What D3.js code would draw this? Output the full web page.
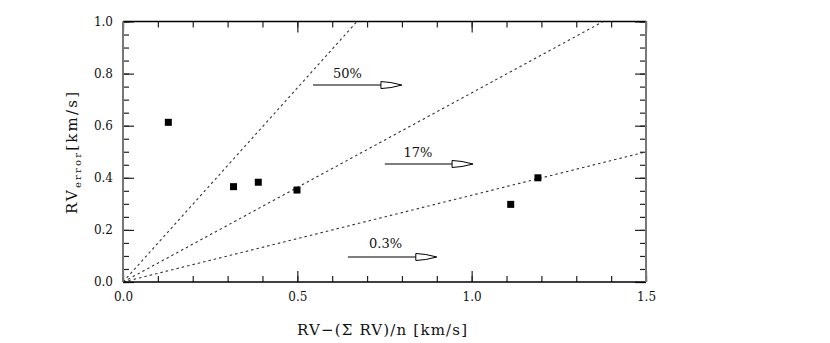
<!DOCTYPE html>
<html>
<head>
<meta charset="utf-8">
<title>RV error vs RV offset</title>
<script src="https://d3js.org/d3.v7.min.js"></script>
<style>
  body { margin: 0; background: #fff; }
  svg text { font-family: "DejaVu Serif", "Liberation Serif", serif; fill: #111; }
</style>
</head>
<body>
<div class="drawing"></div>
<script>
var w = 830, h = 343;
var mLeft = 123, mRight = 646, mTop = 21.5, mBottom = 282;

// measured stars
var rvOffset = [0.130, 0.317, 0.388, 0.499, 1.112, 1.190];
var rvError  = [0.613, 0.366, 0.383, 0.353, 0.298, 0.400];

// dotted reference lines through the origin (slope = error / offset)
var slopes = [1.49, 0.726, 0.333];

// arrow annotations
var arrowLabels = ["50%", "17%", "0.3%"];
var arrowX0 = [0.545, 0.751, 0.645];
var arrowX1 = [0.800, 1.004, 0.900];
var arrowY  = [0.756, 0.453, 0.096];
var labelX  = [0.644, 0.846, 0.753];
var labelY  = [0.783, 0.480, 0.131];

var xTicks = [0, 0.5, 1.0, 1.5];
var yTicks = [0, 0.2, 0.4, 0.6, 0.8, 1.0];
var xMinor = d3.range(0, 16).map(function(i){ return i / 10; });
var yMinor = d3.range(0, 21).map(function(i){ return i / 20; });

var x = d3.scaleLinear().domain([0, 1.5]).range([mLeft, mRight]);
var y = d3.scaleLinear().domain([0, 1.0]).range([mBottom, mTop]);

var svg = d3.select("div.drawing").append("svg")
  .attr("width", w).attr("height", h);

/* reference lines */
svg.append("g").selectAll("line")
  .data(slopes).enter().append("line")
  .attr("x1", x(0)).attr("y1", y(0))
  .attr("x2", function(s){ return x(Math.min(1.5, 1 / s)); })
  .attr("y2", function(s){ return y(Math.min(1.0, 1.5 * s)); })
  .attr("stroke", "#333").attr("stroke-width", 1.1)
  .attr("stroke-dasharray", "2.5,3");

/* points */
svg.append("g").selectAll("rect")
  .data(rvOffset).enter().append("rect")
  .attr("x", function(d){ return x(d) - 3.5; })
  .attr("y", function(d, i){ return y(rvError[i]) - 3.5; })
  .attr("width", 7).attr("height", 7)
  .attr("fill", "#000");

/* arrows */
var arr = svg.append("g").selectAll("g")
  .data(arrowLabels).enter().append("g");
arr.append("line")
  .attr("x1", function(d, i){ return x(arrowX0[i]); })
  .attr("x2", function(d, i){ return x(arrowX1[i]) - 20; })
  .attr("y1", function(d, i){ return y(arrowY[i]); })
  .attr("y2", function(d, i){ return y(arrowY[i]); })
  .attr("stroke", "#555").attr("stroke-width", 1.5);
arr.append("path")
  .attr("d", "M-21,-3.5L-11,-2.5L0,0L-11,2.5L-21,3.5Z")
  .attr("transform", function(d, i){ return "translate(" + x(arrowX1[i]) + "," + y(arrowY[i]) + ")"; })
  .attr("fill", "#fff").attr("stroke", "#000").attr("stroke-width", 1);
arr.append("text")
  .attr("x", function(d, i){ return x(labelX[i]); })
  .attr("y", function(d, i){ return y(labelY[i]); })
  .attr("text-anchor", "middle")
  .attr("font-size", 13)
  .text(function(d){ return d; });

/* axes: minor and major ticks pointing inward */
function ticks(g){ g.select(".domain").remove();
  g.attr("font-family", null);
  g.selectAll(".tick line").attr("stroke", "#222").attr("stroke-width", 1.2); }

svg.append("g").attr("transform", "translate(0," + mBottom + ")")
  .call(d3.axisBottom(x).tickValues(xMinor).tickSizeInner(-6).tickSizeOuter(0).tickFormat(""))
  .call(ticks);
svg.append("g").attr("transform", "translate(0," + mBottom + ")")
  .call(d3.axisBottom(x).tickValues(xTicks).tickSizeInner(-11).tickSizeOuter(0)
    .tickPadding(10).tickFormat(d3.format(".1f")))
  .call(ticks);
svg.append("g").attr("transform", "translate(0," + mTop + ")")
  .call(d3.axisTop(x).tickValues(xMinor).tickSizeInner(-6).tickSizeOuter(0).tickFormat(""))
  .call(ticks);
svg.append("g").attr("transform", "translate(0," + mTop + ")")
  .call(d3.axisTop(x).tickValues(xTicks).tickSizeInner(-11).tickSizeOuter(0).tickFormat(""))
  .call(ticks);
svg.append("g").attr("transform", "translate(" + mLeft + ",0)")
  .call(d3.axisLeft(y).tickValues(yMinor).tickSizeInner(-6).tickSizeOuter(0).tickFormat(""))
  .call(ticks);
svg.append("g").attr("transform", "translate(" + mLeft + ",0)")
  .call(d3.axisLeft(y).tickValues(yTicks).tickSizeInner(-11).tickSizeOuter(0)
    .tickPadding(10).tickFormat(d3.format(".1f")))
  .call(ticks);
svg.append("g").attr("transform", "translate(" + mRight + ",0)")
  .call(d3.axisRight(y).tickValues(yMinor).tickSizeInner(-6).tickSizeOuter(0).tickFormat(""))
  .call(ticks);
svg.append("g").attr("transform", "translate(" + mRight + ",0)")
  .call(d3.axisRight(y).tickValues(yTicks).tickSizeInner(-11).tickSizeOuter(0).tickFormat(""))
  .call(ticks);

svg.selectAll(".tick text").attr("font-size", 12).attr("fill", "#111");

/* frame */
svg.append("line").attr("x1", mLeft).attr("x2", mRight).attr("y1", mTop).attr("y2", mTop)
  .attr("stroke", "#000").attr("stroke-width", 1.5);
svg.append("line").attr("x1", mLeft).attr("x2", mRight).attr("y1", mBottom).attr("y2", mBottom)
  .attr("stroke", "#000").attr("stroke-width", 1.5);
svg.append("line").attr("x1", mLeft).attr("x2", mLeft).attr("y1", mTop).attr("y2", mBottom)
  .attr("stroke", "#777").attr("stroke-width", 2);
svg.append("line").attr("x1", mRight).attr("x2", mRight).attr("y1", mTop).attr("y2", mBottom)
  .attr("stroke", "#777").attr("stroke-width", 2);

/* axis titles */
svg.append("text")
  .attr("x", 382).attr("y", 335)
  .attr("text-anchor", "middle").attr("font-size", 15)
  .attr("textLength", 170).attr("lengthAdjust", "spacing")
  .text("RV\u2212(\u03A3 RV)/n [km/s]");

var yl = svg.append("text")
  .attr("transform", "translate(77,153) rotate(-90)")
  .attr("text-anchor", "middle").attr("font-size", 15)
  .attr("textLength", 122).attr("lengthAdjust", "spacing");
yl.append("tspan").text("RV");
yl.append("tspan").attr("font-size", 10).attr("dy", 4).text("error");
yl.append("tspan").attr("dy", -4).text("[km/s]");
</script>
</body>
</html>
